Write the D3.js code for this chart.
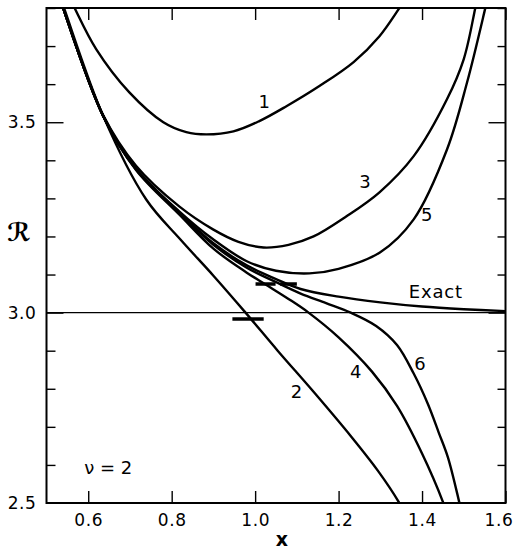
<!DOCTYPE html>
<html>
<head>
<meta charset="utf-8">
<script src="https://cdnjs.cloudflare.com/ajax/libs/d3/7.8.5/d3.min.js"></script>
<style>
  body { margin: 0; background: #fff; }
  svg { display: block; }
  text { font-family: 'DejaVu Sans', 'Liberation Sans', sans-serif; fill: #000; }
</style>
</head>
<body>
<div class="canvas"></div>
<script>
// values, [x, R]
const curve1 = [[0.55,3.84],[0.566,3.803],[0.619,3.692],[0.698,3.579],[0.78,3.5],[0.835,3.474],[0.883,3.468],[0.948,3.476],[1.01,3.503],[1.075,3.542],[1.154,3.595],[1.236,3.658],[1.298,3.726],[1.344,3.797],[1.37,3.84]];
const curve2 = [[0.52,3.87],[0.542,3.80],[0.636,3.516],[0.739,3.297],[0.821,3.192],[0.9,3.097],[0.977,3.0],[1.054,2.9],[1.14,2.792],[1.229,2.676],[1.294,2.585],[1.344,2.503],[1.36,2.47]];
const curve3 = [[0.52,3.87],[0.54,3.80],[0.636,3.518],[0.715,3.385],[0.818,3.279],[0.9,3.218],[0.96,3.186],[1.02,3.171],[1.08,3.178],[1.14,3.2],[1.219,3.253],[1.298,3.316],[1.38,3.411],[1.46,3.561],[1.5,3.666],[1.527,3.797],[1.535,3.84]];
const curve4 = [[0.52,3.87],[0.54,3.80],[0.636,3.516],[0.715,3.374],[0.818,3.258],[0.9,3.168],[0.98,3.105],[1.025,3.074],[1.08,3.036],[1.128,3.0],[1.2,2.935],[1.28,2.845],[1.34,2.755],[1.4,2.63],[1.45,2.503],[1.46,2.47]];
const curve5 = [[0.52,3.87],[0.54,3.80],[0.636,3.516],[0.715,3.378],[0.818,3.266],[0.9,3.192],[0.98,3.135],[1.05,3.11],[1.13,3.103],[1.2,3.115],[1.299,3.158],[1.38,3.245],[1.46,3.429],[1.508,3.605],[1.551,3.797],[1.56,3.84]];
const curve6 = [[0.52,3.87],[0.54,3.80],[0.636,3.516],[0.715,3.376],[0.818,3.262],[0.9,3.178],[0.98,3.118],[1.05,3.08],[1.109,3.05],[1.17,3.025],[1.229,3.0],[1.29,2.965],[1.34,2.915],[1.38,2.84],[1.414,2.76],[1.44,2.685],[1.462,2.62],[1.489,2.503],[1.496,2.47]];
const exact = [[0.52,3.87],[0.54,3.80],[0.636,3.516],[0.715,3.376],[0.818,3.263],[0.9,3.182],[0.98,3.124],[1.05,3.088],[1.109,3.062],[1.2,3.042],[1.3,3.027],[1.4,3.016],[1.5,3.009],[1.6,3.004]];

// short dash marks
const markX = [0.983, 1.025, 1.08];
const markY = [2.983, 3.075, 3.075];
const markW = [0.075, 0.048, 0.04];

const xTicks = [0.6, 0.8, 1.0, 1.2, 1.4, 1.6];
const yLabelTicks = [2.5, 3.0, 3.5];
const refLine = 3.0;

const curveNames = ['1', '2', '3', '4', '5', '6', 'Exact'];
const labelX = [1.022, 1.099, 1.263, 1.241, 1.411, 1.395, 1.433];
const labelY = [3.555, 2.792, 3.345, 2.845, 3.258, 2.866, 3.055];

const svg = d3.select('.canvas')
  .append('svg')
    .attr('width', 515)
    .attr('height', 552);

const plotLeft = 46.5, plotRight = 505.5, plotTop = 8, plotBottom = 503;

const x = d3.scaleLinear().domain([0.5, 1.6]).range([plotLeft, plotRight]);
const y = d3.scaleLinear().domain([2.5, 3.8]).range([plotBottom, plotTop]);

svg.append('clipPath').attr('id', 'plot')
  .append('rect')
    .attr('x', plotLeft).attr('y', plotTop)
    .attr('width', plotRight - plotLeft).attr('height', plotBottom - plotTop);

// minor ticks every 0.1
const yAll = d3.range(26, 39).map(d => d / 10);
const isMajor = d => yLabelTicks.some(t => Math.abs(t - d) < 1e-6);

// bottom axis
const xAxisGroup = svg.append('g')
  .attr('transform', `translate(0, ${plotBottom})`)
  .call(d3.axisBottom(x).tickValues(xTicks).tickSizeInner(-12).tickSizeOuter(0)
    .tickPadding(11).tickFormat(d3.format('.1f')));

// last label sits inside the page like in the print
xAxisGroup.selectAll('.tick text')
  .attr('dx', d => d === 1.6 ? -7 : 0);

// top axis, ticks only
svg.append('g')
  .attr('transform', `translate(0, ${plotTop})`)
  .call(d3.axisTop(x).tickValues(xTicks).tickSizeInner(-12).tickSizeOuter(0).tickFormat(''));

// left axis
const yAxisGroup = svg.append('g')
  .attr('transform', `translate(${plotLeft}, 0)`)
  .call(d3.axisLeft(y).tickValues([2.5].concat(yAll)).tickSizeOuter(0).tickPadding(4)
    .tickFormat(d => isMajor(d) ? d3.format('.1f')(d) : ''));

yAxisGroup.selectAll('.tick line')
  .attr('x2', d => d === 2.5 ? 0 : (isMajor(d) ? 17 : 9));

// right axis
const yRight = svg.append('g')
  .attr('transform', `translate(${plotRight}, 0)`)
  .call(d3.axisRight(y).tickValues(yAll).tickSizeOuter(0).tickFormat(''));

yRight.selectAll('.tick line')
  .attr('x2', d => isMajor(d) ? -17 : -8);

svg.selectAll('.domain').remove();
svg.selectAll('.tick line').attr('stroke', '#000').attr('stroke-width', 1.4);
svg.selectAll('.tick text')
  .attr('font-size', 17)
  .attr('letter-spacing', 0.6)
  .attr('font-family', "'DejaVu Sans', sans-serif")
  .attr('fill', '#000');

// frame
svg.append('rect')
  .attr('x', plotLeft).attr('y', plotTop)
  .attr('width', plotRight - plotLeft).attr('height', plotBottom - plotTop)
  .attr('fill', 'none')
  .attr('stroke', '#000')
  .attr('stroke-width', 2);

// R = 3 line
svg.append('line')
  .attr('x1', plotLeft).attr('x2', plotRight)
  .attr('y1', y(refLine)).attr('y2', y(refLine))
  .attr('stroke', '#000')
  .attr('stroke-width', 1.3);

const line = d3.line()
  .x(d => x(d[0]))
  .y(d => y(d[1]))
  .curve(d3.curveCatmullRom.alpha(0.5));

const graph = svg.append('g').attr('clip-path', 'url(#plot)');

graph.selectAll('path.curve')
  .data([curve1, curve2, curve3, curve4, curve5, curve6, exact])
  .enter()
  .append('path')
    .attr('class', 'curve')
    .attr('d', line)
    .attr('fill', 'none')
    .attr('stroke', '#000')
    .attr('stroke-width', 2.4);

// dash marks
graph.selectAll('line.mark')
  .data(markX)
  .enter()
  .append('line')
    .attr('class', 'mark')
    .attr('x1', (d, i) => x(d - markW[i] / 2))
    .attr('x2', (d, i) => x(d + markW[i] / 2))
    .attr('y1', (d, i) => y(markY[i]))
    .attr('y2', (d, i) => y(markY[i]))
    .attr('stroke', '#000')
    .attr('stroke-width', 3.5);

// curve labels
svg.selectAll('text.lbl')
  .data(curveNames)
  .enter()
  .append('text')
    .attr('class', 'lbl')
    .attr('x', (d, i) => x(labelX[i]))
    .attr('y', (d, i) => y(labelY[i]))
    .attr('dy', '0.36em')
    .attr('text-anchor', 'middle')
    .attr('font-size', 18)
    .attr('letter-spacing', d => d === 'Exact' ? 0.8 : 0)
    .text(d => d);

svg.append('text')
  .attr('x', x(0.648))
  .attr('y', y(2.592))
  .attr('dy', '0.36em')
  .attr('text-anchor', 'middle')
  .attr('font-size', 18)
  .text('\u03bd = 2');

// axis titles
svg.append('text')
  .attr('x', (plotLeft + plotRight) / 2 + 6)
  .attr('y', 546)
  .attr('text-anchor', 'middle')
  .attr('font-size', 19)
  .attr('font-weight', 'bold')
  .text('x');

svg.append('text')
  .attr('x', 19)
  .attr('y', 241)
  .attr('text-anchor', 'middle')
  .attr('font-size', 25)
  .attr('font-weight', 'bold')
  .attr('font-style', 'italic')
  .attr('font-family', "'DejaVu Serif', serif")
  .text('\u211b');
</script>
</body>
</html>
